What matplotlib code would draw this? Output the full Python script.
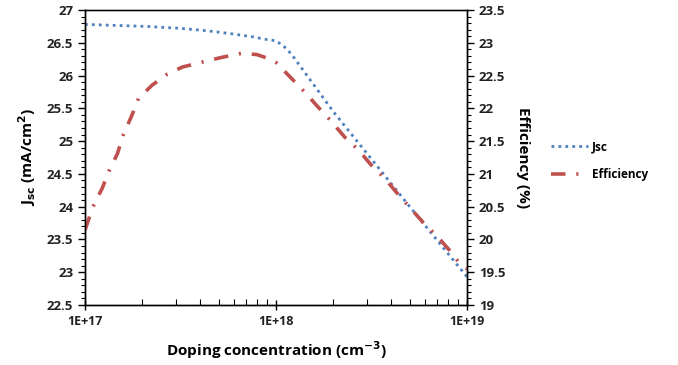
import numpy as np
import matplotlib
matplotlib.use("Agg")
import matplotlib.pyplot as plt
from matplotlib.ticker import MultipleLocator, FixedLocator, LogLocator, NullFormatter

# data (x given as log10 of doping)
jsc_logx = [17.00, 17.32, 17.50, 17.65, 17.76, 17.88, 17.95, 18.00, 18.04, 18.08, 18.30, 18.70, 19.00]
jsc_val = [26.78, 26.75, 26.72, 26.68, 26.64, 26.59, 26.55, 26.53, 26.45, 26.33, 25.45, 24.00, 22.93]

eff_logx = [17.00, 17.04, 17.09, 17.125, 17.17, 17.20, 17.245, 17.28, 17.35, 17.43, 17.51, 17.62,
            17.72, 17.82, 17.90, 17.96, 18.00, 18.08, 18.15, 18.22, 18.29, 18.36, 18.43, 18.50,
            18.57, 18.63, 18.70, 18.77, 18.84, 18.91, 18.97, 19.00]
eff_val = [20.14, 20.49, 20.78, 21.04, 21.31, 21.59, 21.89, 22.15, 22.35, 22.52, 22.63, 22.71,
           22.78, 22.84, 22.82, 22.76, 22.70, 22.46, 22.25, 22.02, 21.80, 21.56, 21.37, 21.13,
           20.93, 20.72, 20.49, 20.26, 20.06, 19.83, 19.60, 19.55]

jsc_x = 10.0 ** np.array(jsc_logx)
eff_x = 10.0 ** np.array(eff_logx)

plt.rcParams['font.family'] = ['Open Sans', 'DejaVu Sans']

fig = plt.figure(figsize=(6.78, 3.65), dpi=100)
ax = fig.add_axes([85/678, 1 - 305/365, (467 - 85)/678, 295/365])
ax2 = ax.twinx()

l1, = ax.plot(jsc_x, jsc_val, color="#4F81BD", lw=2.0, linestyle=(0, (1, 1.5)), label="Jsc")
l2, = ax2.plot(eff_x, eff_val, color="#C0504D", lw=2.6, linestyle=(0, (4, 3, 0.6, 3)), label="Efficiency")

ax.set_xscale("log")
ax.set_xlim(1e17, 1e19)
ax.set_ylim(22.5, 27)
ax2.set_ylim(19, 23.5)

ax.xaxis.set_major_locator(FixedLocator([1e17, 1e18, 1e19]))
ax.set_xticklabels(["1E+17", "1E+18", "1E+19"])
ax.xaxis.set_minor_locator(LogLocator(base=10, subs=np.arange(2, 10)))
ax.xaxis.set_minor_formatter(NullFormatter())

ax.yaxis.set_major_locator(MultipleLocator(0.5))
ax.yaxis.set_minor_locator(MultipleLocator(0.1))
ax2.yaxis.set_major_locator(MultipleLocator(0.5))
ax2.yaxis.set_minor_locator(MultipleLocator(0.1))
ax.yaxis.set_major_formatter(plt.FuncFormatter(lambda v, p: f"{v:g}"))
ax2.yaxis.set_major_formatter(plt.FuncFormatter(lambda v, p: f"{v:g}"))

ax.tick_params(axis="x", which="major", direction="inout", length=7, width=1, labelsize=9)
ax.tick_params(axis="x", which="minor", direction="in", length=4, width=0.8)
ax.tick_params(axis="y", which="major", direction="out", length=5, width=1, labelsize=9.5)
ax.tick_params(axis="y", which="minor", direction="out", length=3, width=0.8)
ax2.tick_params(axis="y", which="major", direction="out", length=5, width=1, labelsize=9.5)
ax2.tick_params(axis="y", which="minor", direction="out", length=3, width=0.8)

for lab in ax.get_xticklabels() + ax.get_yticklabels() + ax2.get_yticklabels():
    lab.set_fontweight("bold")
    lab.set_color("#222222")

for s in ax.spines.values():
    s.set_linewidth(1.0)
for s in ax2.spines.values():
    s.set_linewidth(1.0)
ax.spines["top"].set_color("#555555")

ax.set_xlabel("Doping concentration (cm$^{\\mathbf{-3}}$)", fontsize=11, fontweight="bold", labelpad=8)
ax.set_ylabel("J$_{\\mathbf{sc}}$ (mA/cm$^{\\mathbf{2}}$)", fontsize=11, fontweight="bold", labelpad=6)
ax2.set_ylabel("Efficiency (%)", fontsize=11, fontweight="bold", rotation=-90, labelpad=18)

fig.legend(handles=[l1, l2], loc="upper left", bbox_to_anchor=(540/678, 1 - 130/365),
           frameon=False, handlelength=3.2, labelspacing=1.2, handletextpad=0.3,
           prop={"weight": "bold", "size": 8.5})

fig.savefig("out.png", dpi=100)
